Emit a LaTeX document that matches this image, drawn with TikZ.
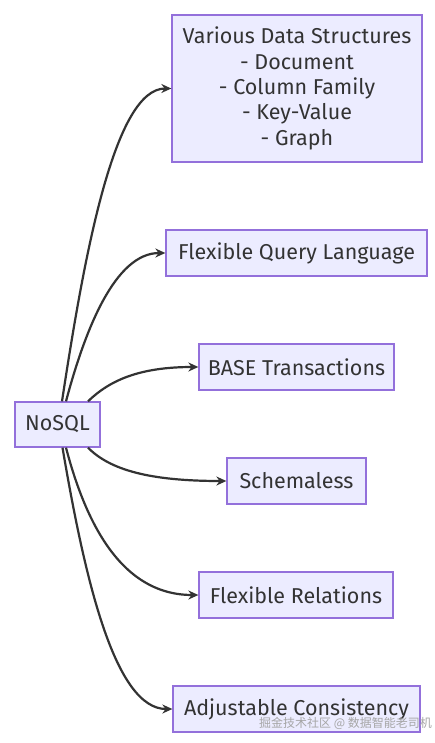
\documentclass[tikz,border=0pt]{standalone}
\usepackage{fontspec}
\setmainfont{Fira Sans}
\newfontfamily\cjk{Noto Sans CJK SC}
\usetikzlibrary{arrows.meta,calc}
\definecolor{nodefill}{HTML}{ECECFF}
\definecolor{nodeline}{HTML}{9370DB}
\definecolor{txt}{HTML}{333333}
\begin{document}
\begin{tikzpicture}[x=1pt,y=-1pt,
  box/.style={draw=nodeline,fill=nodefill,line width=1.3pt,text=txt,font=\fontsize{21.5}{25.3}\selectfont,align=center,inner sep=0pt},
  link/.style={draw=txt,line width=2.2pt,-{Stealth[length=10pt,width=9pt]}}]
\useasboundingbox[fill=white] (0,0) rectangle (435,743);
\node[box,minimum width=85pt,minimum height=45pt] (nosql) at (57.5,424.5) {NoSQL};
\node[box,minimum width=250pt,minimum height=147pt] (vds) at (297,88.5) {Various Data Structures\\- Document\\- Column Family\\- Key-Value\\- Graph};
\node[box,minimum width=261pt,minimum height=46pt] (fql) at (296.5,253) {Flexible Query Language};
\node[box,minimum width=195pt,minimum height=46pt] (base) at (296.5,367) {BASE Transactions};
\node[box,minimum width=139pt,minimum height=46pt] (schema) at (296.5,481) {Schemaless};
\node[box,minimum width=194pt,minimum height=46pt] (frel) at (296,595) {Flexible Relations};
\node[box,minimum width=247pt,minimum height=46pt] (adj) at (296.5,709) {Adjustable Consistency};
\draw[link] ($(nosql.north)+(4.5,0)$) .. controls (85,250) and (115,88.5) .. (vds.west);
\draw[link] ($(nosql.north)+(8.5,0)$) .. controls (85,330) and (115,253) .. (fql.west);
\draw[link] ($(nosql.north)+(30.5,0)$) .. controls (110,380) and (140,367) .. (base.west);
\draw[link] ($(nosql.south)+(30.5,0)$) .. controls (110,470) and (150,481) .. (schema.west);
\draw[link] ($(nosql.south)+(8.5,0)$) .. controls (85,520) and (120,595) .. (frel.west);
\draw[link] ($(nosql.south)+(5,0)$) .. controls (85,580) and (115,709) .. (adj.west);
\node[anchor=east,text=gray!70,font=\cjk\fontsize{12}{12}\selectfont,inner sep=0pt] (wm) at (432,723) {掘金技术社区 @ 数据智能老司机};
\end{tikzpicture}
\end{document}
